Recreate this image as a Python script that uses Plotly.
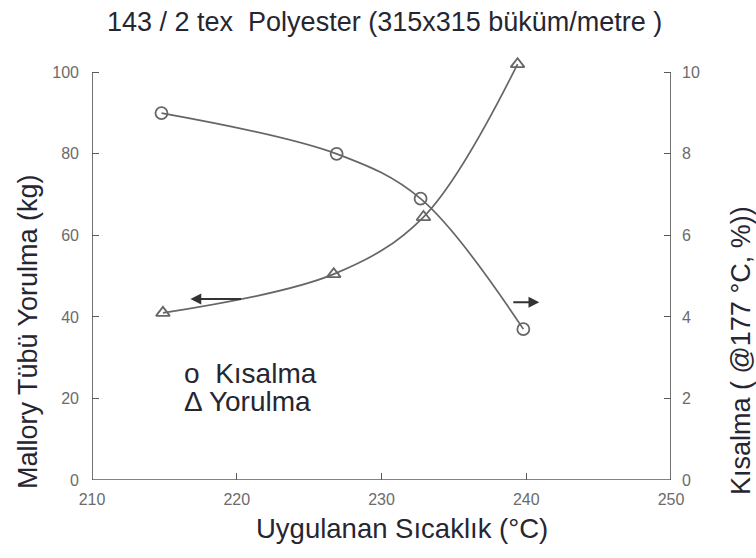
import plotly.graph_objects as go

# ---- data ----
temp_kisalma = [214.8, 226.9, 232.7, 239.8]
kisalma = [9.0, 8.0, 6.9, 3.7]          # right axis (%)
temp_yorulma = [214.9, 226.7, 232.9, 239.4]
yorulma = [41.0, 50.5, 64.5, 102.0]     # left axis (kg)

x_ticks = [210, 220, 230, 240, 250]
left_ticks = [0, 20, 40, 60, 80, 100]
right_ticks = [0, 2, 4, 6, 8, 10]

title_text = "143 / 2 tex  Polyester (315x315 büküm/metre )"
x_title = "Uygulanan Sıcaklık (°C)"
left_title = "Mallory Tübü Yorulma (kg)"
right_title = "Kısalma ( @177 °C, %))"

line_col = "#666666"
axis_col = "#5a5a5a"
tick_font = dict(family="Liberation Sans, Arial", size=16, color="#6b6b6b")
text_col = "#262632"

fig = go.Figure()

fig.add_trace(go.Scatter(
    x=temp_yorulma, y=yorulma, mode="lines+markers", yaxis="y",
    line=dict(color=line_col, width=1.7, shape="spline", smoothing=1.0),
    marker=dict(symbol="triangle-up-open", size=12, color=line_col,
                line=dict(width=1.8, color=line_col)),
    showlegend=False, name="Yorulma"))

fig.add_trace(go.Scatter(
    x=temp_kisalma, y=kisalma, mode="lines+markers", yaxis="y2",
    line=dict(color=line_col, width=1.7, shape="spline", smoothing=1.0),
    marker=dict(symbol="circle-open", size=12, color=line_col,
                line=dict(width=1.8, color=line_col)),
    showlegend=False, name="Kısalma"))

axis_common = dict(showgrid=False, zeroline=False, showline=False,
                   ticks="inside", ticklen=7, tickwidth=1.4,
                   tickcolor=axis_col, tickfont=tick_font)

fig.update_layout(
    width=756, height=558,
    margin=dict(l=92, r=85, t=56, b=78),
    paper_bgcolor="white", plot_bgcolor="white",
    font=dict(family="Liberation Sans, Arial", color=text_col),
    xaxis=dict(range=[210, 250], tickvals=x_ticks,
               ticktext=[str(v) for v in x_ticks], ticklabelstandoff=8,
               **axis_common),
    yaxis=dict(range=[0, 104], tickvals=left_ticks,
               ticktext=[str(v) for v in left_ticks], ticklabelstandoff=12,
               **axis_common),
    yaxis2=dict(range=[0, 10.4], tickvals=right_ticks,
                ticktext=[str(v) for v in right_ticks], overlaying="y",
                side="right", ticklabelstandoff=10, **axis_common),
)

# axis frame lines (left, right, bottom) ending at the top tick
for x0, y0, x1, y1 in [(210, 0, 210, 100), (250, 0, 250, 100), (210, 0, 250, 0)]:
    fig.add_shape(type="line", x0=x0, y0=y0, x1=x1, y1=y1, xref="x", yref="y",
                  line=dict(color=axis_col, width=1.7))

# titles
fig.add_annotation(text=title_text, x=0.506, y=1, xref="paper", yref="paper",
                   yshift=34, showarrow=False, xanchor="center", yanchor="middle",
                   font=dict(size=27, color=text_col))
fig.add_annotation(text=x_title, x=0.535, y=0, xref="paper", yref="paper",
                   yshift=-48, showarrow=False, xanchor="center", yanchor="middle",
                   font=dict(size=27.5, color=text_col))
fig.add_annotation(text=left_title, x=0, y=0.349, xref="paper", yref="paper",
                   xshift=-64, textangle=-90, showarrow=False,
                   xanchor="center", yanchor="middle",
                   font=dict(size=27, color=text_col))
fig.add_annotation(text=right_title, x=1, y=0.304, xref="paper", yref="paper",
                   xshift=70, textangle=-90, showarrow=False,
                   xanchor="center", yanchor="middle",
                   font=dict(size=27, color=text_col))

# legend-like text
fig.add_annotation(text="o  Kısalma", x=0.155, y=0.252, xref="paper", yref="paper",
                   xanchor="left", yanchor="middle", showarrow=False,
                   font=dict(size=28, color=text_col))
fig.add_annotation(text="Δ Yorulma", x=0.155, y=0.184, xref="paper", yref="paper",
                   xanchor="left", yanchor="middle", showarrow=False,
                   font=dict(size=28, color=text_col))

# axis indicator arrows
fig.add_annotation(x=216.8, y=44.4, ax=220.4, ay=44.4, xref="x", yref="y",
                   axref="x", ayref="y", showarrow=True, arrowhead=2,
                   arrowsize=1.2, arrowwidth=1.8, arrowcolor="#333333", text="")
fig.add_annotation(x=240.9, y=43.6, ax=239.0, ay=43.6, xref="x", yref="y",
                   axref="x", ayref="y", showarrow=True, arrowhead=2,
                   arrowsize=1.2, arrowwidth=1.8, arrowcolor="#333333", text="")

fig.write_html("out.html")
